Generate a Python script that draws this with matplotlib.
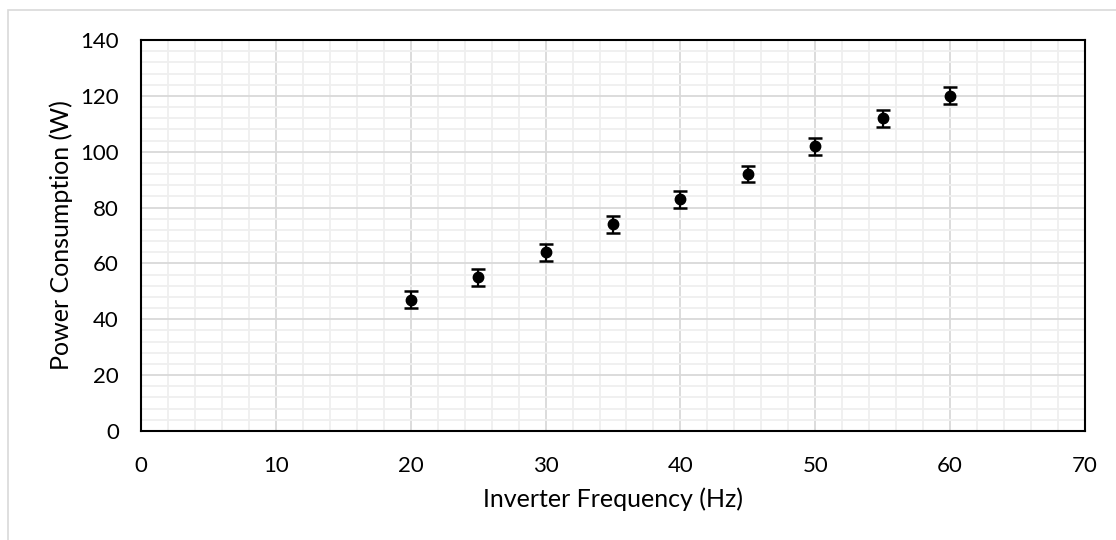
import matplotlib.pyplot as plt
from matplotlib.patches import Rectangle
from matplotlib.ticker import MultipleLocator

# inverter frequency (Hz) and measured power (W)
freq = [20, 25, 30, 35, 40, 45, 50, 55, 60]
power = [47, 55, 64, 74, 83, 92, 102, 112, 120]
err = [3, 3, 3, 3, 3, 3, 3, 3, 3]

plt.rcParams['font.family'] = ['Lato', 'DejaVu Sans']

fig = plt.figure(figsize=(11.16, 5.4), dpi=100)
# light chart border like the spreadsheet frame
fig.patches.append(Rectangle((8 / 1116, -0.1), 1.2, 1 - 10 / 540 + 0.1,
                             transform=fig.transFigure, fill=False,
                             edgecolor='#d9d9d9', linewidth=1.2))

ax = fig.add_axes([141 / 1116, 1 - 431 / 540, 944 / 1116, 391 / 540])
ax.errorbar(freq, power, yerr=err, fmt='o', color='black', ms=7.5,
            capsize=5, capthick=1.8, elinewidth=1.6, zorder=3)

ax.set_xlim(0, 70)
ax.set_ylim(0, 140)
ax.xaxis.set_major_locator(MultipleLocator(10))
ax.xaxis.set_minor_locator(MultipleLocator(2))
ax.yaxis.set_major_locator(MultipleLocator(20))
ax.yaxis.set_minor_locator(MultipleLocator(4))
ax.grid(which='major', color='#d9d9d9', linewidth=1.3, zorder=0)
ax.grid(which='minor', color='#efefef', linewidth=1.3, zorder=0)
ax.set_axisbelow(True)
ax.tick_params(which='both', length=0, labelsize=16)
ax.tick_params(axis='x', pad=18)
ax.tick_params(axis='y', pad=16)
for s in ax.spines.values():
    s.set_linewidth(1.5)
    s.set_color('black')

ax.set_xlabel('Inverter Frequency (Hz)', fontsize=18, labelpad=8)
ax.set_ylabel('Power Consumption (W)', fontsize=18, labelpad=5)

plt.savefig('out.png', dpi=100)
